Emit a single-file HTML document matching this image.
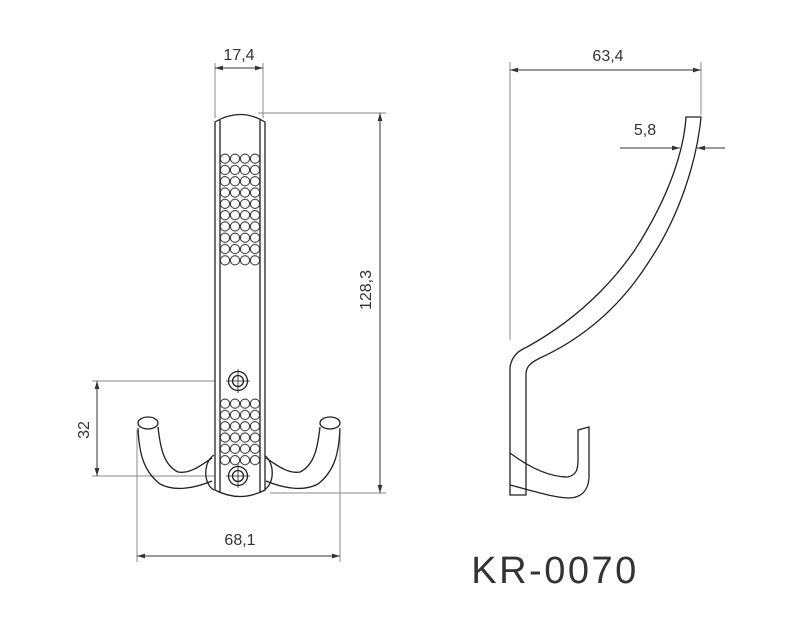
<!DOCTYPE html>
<html><head><style>
html,body{margin:0;padding:0;background:#fff;width:800px;height:622px;overflow:hidden}
text{font-family:"Liberation Sans",sans-serif;fill:#333}
</style></head><body>
<svg width="800" height="622" viewBox="0 0 800 622" xmlns="http://www.w3.org/2000/svg">
<defs>
<marker id="a" viewBox="0 0 10 6" refX="10" refY="3" markerWidth="8" markerHeight="5" orient="auto-start-reverse"><path d="M0,0L10,3L0,6z" fill="#333"/></marker>
<pattern id="dots" x="220" y="153" width="10" height="11.3" patternUnits="userSpaceOnUse">
<circle cx="5" cy="5.65" r="4.6" fill="none" stroke="#333" stroke-width="1"/>
</pattern>
<pattern id="dots2" x="220" y="398" width="10" height="11.3" patternUnits="userSpaceOnUse">
<circle cx="5" cy="5.65" r="4.6" fill="none" stroke="#333" stroke-width="1"/>
</pattern>
</defs>
<g fill="none" stroke="#888" stroke-width="1">
<line x1="215" y1="63" x2="215" y2="118"/><line x1="263" y1="63" x2="263" y2="118"/>
<line x1="215" y1="68" x2="263" y2="68" marker-start="url(#a)" marker-end="url(#a)" stroke="#333"/>
<line x1="258" y1="113" x2="386" y2="113"/><line x1="270" y1="493" x2="386" y2="493"/>
<line x1="380" y1="113" x2="380" y2="493" marker-start="url(#a)" marker-end="url(#a)" stroke="#333"/>
<line x1="92" y1="381" x2="250" y2="381"/><line x1="92" y1="476" x2="250" y2="476"/>
<line x1="97" y1="381" x2="97" y2="476" marker-start="url(#a)" marker-end="url(#a)" stroke="#333"/>
<line x1="137" y1="430" x2="137" y2="562"/><line x1="340" y1="430" x2="340" y2="562"/>
<line x1="137" y1="556" x2="340" y2="556" marker-start="url(#a)" marker-end="url(#a)" stroke="#333"/>
<line x1="510" y1="62" x2="510" y2="340"/><line x1="701" y1="62" x2="701" y2="115"/>
<line x1="510" y1="70" x2="701" y2="70" marker-start="url(#a)" marker-end="url(#a)" stroke="#333"/>
<line x1="620" y1="148" x2="680" y2="148" marker-end="url(#a)" stroke="#333"/>
<line x1="725" y1="148" x2="697" y2="148" marker-end="url(#a)" stroke="#333"/>
</g>
<g fill="none" stroke="#222" stroke-width="1.3">
<path d="M138,428 C139,450 142,470 160,484 C175,492 195,488 212,481"/>
<path d="M158,427 C160,445 163,465 178,472 C190,474 200,466 212,458"/>
<ellipse cx="148" cy="423" rx="10" ry="6" fill="#fff"/>
<path d="M340,428 C339,450 336,470 318,484 C303,492 283,488 266,481"/>
<path d="M320,427 C318,445 315,465 300,472 C288,474 278,466 266,458"/>
<ellipse cx="330" cy="423" rx="10" ry="6" fill="#fff"/>
<path d="M214,455 C203,462 203,484 214,490"/>
<path d="M264,455 C275,462 275,484 264,490"/>
<path d="M215,122 Q240,107 265,122 L265,490 Q240,503 215,490 Z" fill="#fff"/>
<line x1="220" y1="120" x2="220" y2="493"/><line x1="260" y1="120" x2="260" y2="493"/>
<rect x="220" y="153" width="40" height="113" fill="url(#dots)" stroke="none"/>
<rect x="220" y="398" width="40" height="68" fill="url(#dots2)" stroke="none"/>
<circle cx="238" cy="381" r="9.5" fill="#fff"/><circle cx="238" cy="381" r="5.5"/>
<circle cx="238" cy="476" r="9.5" fill="#fff"/><circle cx="238" cy="476" r="5.5"/>
<path d="M686,117 L701,117 C697,160 680,215 650,260 C625,300 590,335 540,358 C528,364 526,368 526,375 L526,495 L510,495 L510,367 C512,355 520,350 527,347 C585,315 625,270 647,230 C670,190 684,150 686,117 Z"/>
<path d="M510,453 C530,468 550,477 568,477 C576,475 578,470 578,460 L578,430 L589,427 L589,478 C588,492 580,498 568,498 C550,497 530,490 510,485"/>
</g>
<g stroke="#222" stroke-width="0.8">
<line x1="226" y1="381" x2="250" y2="381"/><line x1="238" y1="369" x2="238" y2="393"/>
<line x1="226" y1="476" x2="250" y2="476"/><line x1="238" y1="464" x2="238" y2="488"/>
</g>
<text x="239" y="60" font-size="16" text-anchor="middle">17,4</text>
<text x="608" y="61" font-size="16" text-anchor="middle">63,4</text>
<text x="645" y="135" font-size="16" text-anchor="middle">5,8</text>
<text x="240" y="545" font-size="16" text-anchor="middle">68,1</text>
<text x="0" y="0" font-size="16" text-anchor="middle" transform="translate(371,290) rotate(-90)">128,3</text>
<text x="0" y="0" font-size="16" text-anchor="middle" transform="translate(89,430) rotate(-90)">32</text>
<text x="555" y="583" font-size="38" text-anchor="middle" style="letter-spacing:2.5px">KR-0070</text>
</svg>
</body></html>
